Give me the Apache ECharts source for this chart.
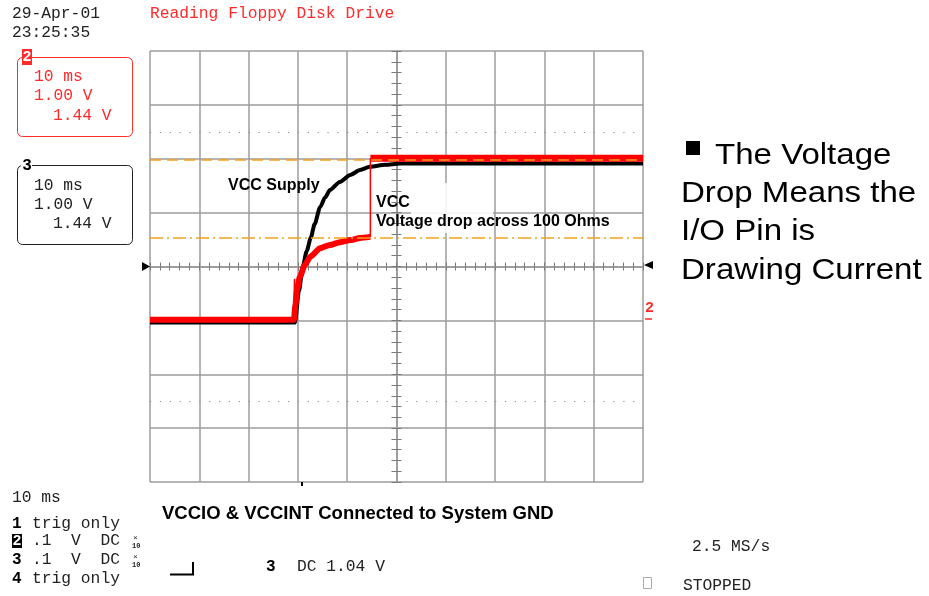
<!DOCTYPE html>
<html><head><meta charset="utf-8">
<script src="https://cdn.jsdelivr.net/npm/echarts@6/dist/echarts.min.js"></script>
<style>html,body{margin:0;padding:0;background:#fff;}#c{width:929px;height:596px;}</style>
</head><body><div id="c"></div>
<script>
// Horizontal: time in ms from screen centre (10 ms/div). Vertical: divisions (1.00 V/div).
// Channel 3 (black) - VCC supply
const blackT = [-50, -20.6, -19.8, -19.0, -18.2, -17.4, -16.6, -15.5, -14.5, -13.5, -11.5, -9.4, -7.4, -5.4, -2.3, 0.7, 50];
const blackV = [-1.04, -1.04, -0.46, 0.0, 0.29, 0.53, 0.79, 1.10, 1.28, 1.42, 1.57, 1.70, 1.79, 1.85, 1.89, 1.91, 1.91];
// Channel 2 (red) - I/O pin side, baseline + ramp
const redMainT = [-50, -20.8, -20.5, -20.2, -19.6, -18.6, -17.5, -15.5, -13.5, -11.5, -9.4, -7.4, -5.3];
const redMainV = [-0.99, -0.99, -0.71, -0.44, -0.19, 0.03, 0.18, 0.34, 0.40, 0.45, 0.49, 0.53, 0.55];
// thin glitch at the edge
const redSpikeT = [-20.8, -20.7, -20.5];
const redSpikeV = [-0.99, -0.23, -0.71];
// thin step and the plateau after it
const redJumpT = [-5.3, -5.3];
const redJumpV = [0.55, 2.01];
const redTopT = [-5.3, 50];
const redTopV = [2.01, 2.01];
// reference levels
const dashLevel = [1.98];
const dashDotLevel = [0.53];
const dotLevels = [2.5, -2.5];

const pair = (t, v) => t.map((x, i) => [x, v[i]]);
const MONO = '"Liberation Mono", "DejaVu Sans Mono", monospace';
const SANS = '"Liberation Sans", Arial, sans-serif';
const GRID = '#9c9c9c';
const TICK = '#7a7a7a';
const RED = '#ff2a2a';
const ORANGE = '#f4a11c';
const INK = '#222';

function txt(x, y, text, font, fill, extra) {
  return Object.assign({type: 'text', x: 0, y: 0, z: 10, style: {x: x, y: y, text: text, font: font, fill: fill, textVerticalAlign: 'middle'}}, extra || {});
}
const mono = (x, y, t, fill) => txt(x, y, t, '16.3px ' + MONO, fill || INK);
const monoB = (x, y, t, fill) => txt(x, y, t, 'bold 16px ' + MONO, fill || '#000');

const chart = echarts.init(document.getElementById('c'), null, {renderer: 'canvas'});

function xAx(inside, split) {
  return {
    type: 'value', min: -50, max: 50, interval: 10, position: 'bottom',
    axisLine: {show: true, onZero: true, onZeroAxisIndex: 0, lineStyle: {color: GRID, width: 1.5}},
    axisTick: {show: true, inside: inside, length: 4, lineStyle: {color: TICK, width: 1}},
    minorTick: {show: true, splitNumber: 5, length: 4, lineStyle: {color: TICK, width: 1}},
    axisLabel: {show: false},
    splitLine: {show: split, lineStyle: {color: GRID, width: 1.5}},
    minorSplitLine: {show: false}
  };
}
function yAx(inside, split) {
  return {
    type: 'value', min: -4, max: 4, interval: 1, position: 'left',
    axisLine: {show: true, onZero: true, onZeroAxisIndex: 0, lineStyle: {color: GRID, width: 1.5}},
    axisTick: {show: true, inside: inside, length: 5, lineStyle: {color: TICK, width: 1}},
    minorTick: {show: true, splitNumber: 5, length: 5, lineStyle: {color: TICK, width: 1}},
    axisLabel: {show: false},
    splitLine: {show: split, lineStyle: {color: GRID, width: 1.5}},
    minorSplitLine: {show: false}
  };
}

const refLines = [];
dashLevel.forEach(v => refLines.push({yAxis: v, lineStyle: {color: ORANGE, width: 1.5, type: [11, 6]}}));
dashDotLevel.forEach(v => refLines.push({yAxis: v, lineStyle: {color: ORANGE, width: 1.5, type: [13, 4, 2, 4]}}));
dotLevels.forEach(v => refLines.push({yAxis: v, lineStyle: {color: '#8a8a8a', width: 1.2, type: [1.2, 8.66]}}));

const lineBase = {type: 'line', symbol: 'none', silent: true, animation: false, xAxisIndex: 0, yAxisIndex: 0};

const graphics = [
  // header
  mono(12, 14, '29-Apr-01'),
  mono(12, 33, '23:25:35'),
  mono(150, 14, 'Reading Floppy Disk Drive', RED),
  // channel 2 box
  {type: 'rect', z: 9, shape: {x: 17.5, y: 57.5, width: 115, height: 79, r: 5}, style: {fill: '#fff', stroke: RED, lineWidth: 1}},
  {type: 'rect', z: 10, shape: {x: 22, y: 49, width: 10, height: 16}, style: {fill: RED}},
  txt(27, 57.5, '2', 'bold 15px ' + MONO, '#fff', {style: {x: 27, y: 57.5, text: '2', font: 'bold 15px ' + MONO, fill: '#fff', textAlign: 'center', textVerticalAlign: 'middle'}}),
  mono(34, 77, '10 ms', RED),
  mono(34, 96, '1.00 V', RED),
  mono(53, 116, '1.44 V', RED),
  // channel 3 box
  {type: 'rect', z: 9, shape: {x: 17.5, y: 165.5, width: 115, height: 79, r: 5}, style: {fill: '#fff', stroke: '#222', lineWidth: 1}},
  {type: 'rect', z: 10, shape: {x: 21, y: 158, width: 11, height: 16}, style: {fill: '#fff'}},
  txt(27, 166, '3', 'bold 16px ' + MONO, '#000', {style: {x: 27, y: 166, text: '3', font: 'bold 16px ' + MONO, fill: '#000', textAlign: 'center', textVerticalAlign: 'middle'}}),
  mono(34, 186, '10 ms'),
  mono(34, 205, '1.00 V'),
  mono(53, 224, '1.44 V'),
  // in-plot annotations
  {type: 'rect', z: 1, shape: {x: 411, y: 183, width: 82, height: 50}, style: {fill: 'rgba(255,255,255,0.88)'}},
  txt(228, 186, 'VCC Supply', 'bold 16px ' + SANS, '#000'),
  txt(376, 203, 'VCC', 'bold 16px ' + SANS, '#000'),
  txt(376, 222, 'Voltage drop across 100 Ohms', 'bold 16px ' + SANS, '#000'),
  // markers around the graticule
  {type: 'polygon', z: 10, shape: {points: [[142, 262], [142, 271], [150, 266.5]]}, style: {fill: '#000'}},
  {type: 'polygon', z: 10, shape: {points: [[653, 261], [653, 269], [644, 265]]}, style: {fill: '#000'}},
  txt(645, 308, '2', 'bold 15px ' + MONO, RED),
  {type: 'line', z: 10, shape: {x1: 645, y1: 319, x2: 652, y2: 319}, style: {stroke: RED, lineWidth: 1.5}},
  {type: 'rect', z: 10, shape: {x: 301, y: 482, width: 2, height: 4}, style: {fill: '#000'}},
  // right side text
  {type: 'rect', z: 10, shape: {x: 686, y: 141, width: 14, height: 14}, style: {fill: '#000'}},
  txt(0, 0, 'The Voltage', '29px ' + SANS, '#000', {x: 715, y: 155.5, scaleX: 1.14}),
  txt(0, 0, 'Drop Means the', '29px ' + SANS, '#000', {x: 681, y: 193.5, scaleX: 1.14}),
  txt(0, 0, 'I/O Pin is', '29px ' + SANS, '#000', {x: 681, y: 231.5, scaleX: 1.14}),
  txt(0, 0, 'Drawing Current', '29px ' + SANS, '#000', {x: 681, y: 270.5, scaleX: 1.14}),
  // bottom block
  mono(12, 498, '10 ms'),
  monoB(12, 523.5, '1'),
  mono(32, 523.5, 'trig only'),
  {type: 'rect', z: 10, shape: {x: 12, y: 534, width: 10, height: 14}, style: {fill: '#000'}},
  txt(17, 541, '2', 'bold 15px ' + MONO, '#fff', {style: {x: 17, y: 541, text: '2', font: 'bold 15px ' + MONO, fill: '#fff', textAlign: 'center', textVerticalAlign: 'middle'}}),
  mono(32, 541, '.1  V  DC'),
  txt(133, 538, '×', '8px ' + MONO, INK),
  txt(132, 546, '10', 'bold 7px ' + MONO, INK),
  monoB(12, 560, '3'),
  mono(32, 560, '.1  V  DC'),
  txt(133, 557, '×', '8px ' + MONO, INK),
  txt(132, 565, '10', 'bold 7px ' + MONO, INK),
  monoB(12, 578.5, '4'),
  mono(32, 578.5, 'trig only'),
  txt(162, 514, 'VCCIO & VCCINT Connected to System GND', 'bold 18.5px ' + SANS, '#000'),
  {type: 'polyline', z: 10, shape: {points: [[170, 574.5], [193, 574.5], [193, 562]]}, style: {stroke: '#000', lineWidth: 2, fill: null}},
  monoB(266, 567, '3'),
  mono(297, 567, 'DC 1.04 V'),
  mono(692, 546.5, '2.5 MS/s'),
  {type: 'rect', z: 10, shape: {x: 643.5, y: 577.5, width: 8, height: 11}, style: {fill: '#fff', stroke: '#aaa', lineWidth: 1}},
  mono(683, 586, 'STOPPED')
];

chart.setOption({
  animation: false,
  backgroundColor: '#fff',
  grid: {left: 150, top: 51, width: 493, height: 431, show: false},
  xAxis: [xAx(false, true), xAx(true, false)],
  yAxis: [yAx(false, true), yAx(true, false)],
  series: [
    Object.assign({}, lineBase, {name: 'ch3', z: 2, data: pair(blackT, blackV), lineStyle: {color: '#000', width: 4}, smooth: 0.25, smoothMonotone: 'x'}),
    Object.assign({}, lineBase, {name: 'ch2', z: 3, data: pair(redMainT, redMainV), lineStyle: {color: '#ff0000', width: 6}, smooth: 0.2, smoothMonotone: 'x'}),
    Object.assign({}, lineBase, {name: 'ch2 glitch', z: 3, data: pair(redSpikeT, redSpikeV), lineStyle: {color: '#ff0000', width: 1.5}}),
    Object.assign({}, lineBase, {name: 'ch2 step', z: 3, data: pair(redJumpT, redJumpV), lineStyle: {color: '#ff0000', width: 1.5}}),
    Object.assign({}, lineBase, {name: 'ch2 top', z: 3, data: pair(redTopT, redTopV), lineStyle: {color: '#ff0000', width: 7}}),
    Object.assign({}, lineBase, {name: 'levels', z: 4, data: [],
      markLine: {silent: true, symbol: ['none', 'none'], label: {show: false}, animation: false, data: refLines}})
  ],
  graphic: graphics
});
</script></body></html>
